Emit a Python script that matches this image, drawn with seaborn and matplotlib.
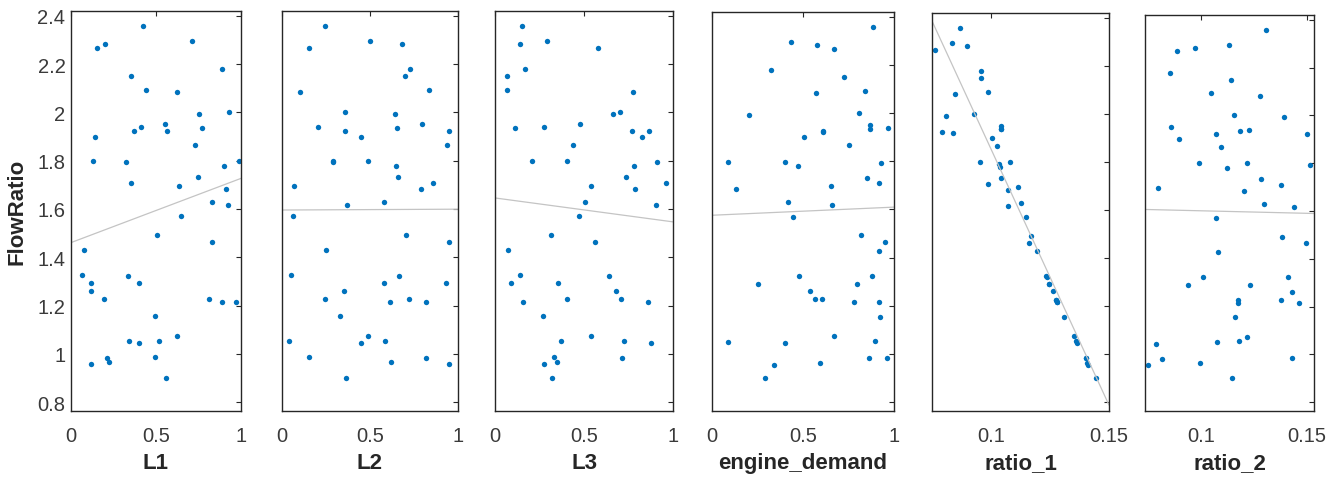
import numpy as np
import pandas as pd
import matplotlib
matplotlib.use('agg')
import matplotlib.pyplot as plt
import seaborn as sns

# response, sorted from high to low
flow_ratio = [2.356, 2.295, 2.284, 2.268, 2.178, 2.149, 2.092, 2.083, 2.001, 1.993,
              1.950, 1.939, 1.936, 1.924, 1.922, 1.900, 1.866, 1.799, 1.799, 1.793,
              1.779, 1.732, 1.708, 1.696, 1.683, 1.630, 1.617, 1.570, 1.492, 1.464,
              1.428, 1.325, 1.322, 1.292, 1.292, 1.261, 1.227, 1.227, 1.215, 1.215,
              1.155, 1.074, 1.055, 1.051, 1.045, 0.985, 0.982, 0.964, 0.956, 0.899]

L1 = [0.424, 0.712, 0.201, 0.155, 0.889, 0.351, 0.439, 0.624, 0.929, 0.755,
      0.555, 0.410, 0.771, 0.371, 0.563, 0.143, 0.729, 0.128, 0.990, 0.325,
      0.902, 0.749, 0.355, 0.633, 0.912, 0.831, 0.922, 0.647, 0.508, 0.829,
      0.075, 0.063, 0.334, 0.119, 0.400, 0.119, 0.196, 0.810, 0.888, 0.971,
      0.496, 0.622, 0.341, 0.518, 0.400, 0.492, 0.210, 0.225, 0.118, 0.557]

L2 = [0.243, 0.502, 0.683, 0.153, 0.728, 0.700, 0.838, 0.100, 0.358, 0.642,
      0.796, 0.202, 0.653, 0.951, 0.360, 0.449, 0.940, 0.291, 0.489, 0.291,
      0.649, 0.657, 0.857, 0.066, 0.791, 0.581, 0.370, 0.060, 0.702, 0.947,
      0.251, 0.051, 0.666, 0.581, 0.932, 0.355, 0.242, 0.719, 0.613, 0.819,
      0.330, 0.487, 0.040, 0.583, 0.451, 0.153, 0.819, 0.617, 0.947, 0.364]

L3 = [0.150, 0.293, 0.138, 0.579, 0.168, 0.065, 0.065, 0.776, 0.705, 0.662,
      0.477, 0.277, 0.112, 0.770, 0.867, 0.824, 0.436, 0.407, 0.209, 0.910,
      0.781, 0.738, 0.963, 0.542, 0.787, 0.505, 0.903, 0.471, 0.312, 0.559,
      0.073, 0.138, 0.639, 0.090, 0.355, 0.677, 0.406, 0.710, 0.155, 0.860,
      0.269, 0.542, 0.368, 0.725, 0.877, 0.333, 0.712, 0.348, 0.277, 0.318]

engine_demand = [0.885, 0.434, 0.575, 0.673, 0.325, 0.728, 0.838, 0.573, 0.805, 0.201,
                 0.870, 0.965, 0.870, 0.609, 0.609, 0.507, 0.755, 0.086, 0.403, 0.927,
                 0.471, 0.854, 0.916, 0.653, 0.131, 0.420, 0.662, 0.447, 0.821, 0.953,
                 0.918, 0.881, 0.480, 0.254, 0.794, 0.540, 0.566, 0.606, 0.779, 0.916,
                 0.923, 0.673, 0.898, 0.089, 0.403, 0.861, 0.960, 0.591, 0.341, 0.292]

ratio_1 = [0.0870, 0.0835, 0.0900, 0.0764, 0.0959, 0.0959, 0.0989, 0.0849, 0.0928, 0.0811,
           0.1044, 0.1044, 0.1044, 0.0794, 0.0839, 0.1003, 0.1024, 0.1082, 0.0952, 0.1035,
           0.1037, 0.1042, 0.0989, 0.1116, 0.1071, 0.1127, 0.1072, 0.1150, 0.1171, 0.1161,
           0.1196, 0.1234, 0.1239, 0.1244, 0.1247, 0.1263, 0.1274, 0.1275, 0.1278, 0.1280,
           0.1309, 0.1350, 0.1362, 0.1364, 0.1366, 0.1401, 0.1404, 0.1407, 0.1411, 0.1446]

ratio_2 = [0.1310, 0.1133, 0.0974, 0.0886, 0.0853, 0.1143, 0.1048, 0.1281, 0.1154, 0.1392,
           0.0859, 0.1225, 0.1185, 0.1072, 0.1500, 0.0896, 0.1094, 0.0992, 0.1217, 0.1516,
           0.1122, 0.1283, 0.1381, 0.0795, 0.1203, 0.1300, 0.1441, 0.1072, 0.1382, 0.1496,
           0.1080, 0.1011, 0.1411, 0.0940, 0.1233, 0.1433, 0.1173, 0.1379, 0.1174, 0.1466,
           0.1160, 0.1219, 0.1178, 0.1074, 0.0789, 0.1433, 0.0814, 0.0996, 0.0749, 0.1145]

predictors = ['L1', 'L2', 'L3', 'engine_demand', 'ratio_1', 'ratio_2']
x_limits = [(0, 1), (0, 1), (0, 1), (0, 1), (0.075, 0.15), (0.0735, 0.1535)]
x_ticks = [[0, 0.5, 1]] * 4 + [[0.1, 0.15]] * 2
x_tick_labels = [['0', '0.5', '1']] * 4 + [['0.1', '0.15']] * 2
y_ticks = [0.8, 1.0, 1.2, 1.4, 1.6, 1.8, 2.0, 2.2, 2.4]
y_tick_labels = ['0.8', '1', '1.2', '1.4', '1.6', '1.8', '2', '2.2', '2.4']

df = pd.DataFrame({'FlowRatio': flow_ratio, 'L1': L1, 'L2': L2, 'L3': L3,
                   'engine_demand': engine_demand, 'ratio_1': ratio_1, 'ratio_2': ratio_2})

sns.set_style('white')
plt.rcParams['font.family'] = ['Liberation Sans', 'DejaVu Sans']

W, H = 1344, 481
fig = plt.figure(figsize=(W / 100, H / 100), dpi=100)

# axes boxes in pixels (left, right, top); all end at y=412
boxes = [(71, 241, 12), (282, 458, 12), (495, 673, 12),
         (712, 894, 13), (932, 1109, 14), (1145, 1314, 16)]
bottom = 412

for i, col in enumerate(predictors):
    l, r, t = boxes[i]
    ax = fig.add_axes([l / W, (H - bottom) / H, (r - l) / W, (bottom - t) / H])
    ax.set_xlim(x_limits[i])
    ax.set_ylim(0.763, 2.42)
    sns.regplot(data=df, x=col, y='FlowRatio', ax=ax, ci=None, truncate=False,
                scatter_kws={'s': 15, 'color': '#0072BD', 'linewidths': 0, 'alpha': 1},
                line_kws={'color': '#c4c4c4', 'lw': 0.9})
    ax.set_xlim(x_limits[i])
    ax.set_ylim(0.763, 2.42)

    ax.set_xticks(x_ticks[i])
    ax.set_xticklabels(x_tick_labels[i])
    ax.set_yticks(y_ticks)
    ax.tick_params(direction='in', length=3.5, width=0.8, top=True, right=True,
                   color='#262626', labelcolor='#3a3a3a', labelsize=14.5)
    ax.tick_params(axis='x', pad=11)
    ax.tick_params(axis='y', pad=4)
    for s in ax.spines.values():
        s.set_linewidth(1.0)
        s.set_color('#262626')

    ax.set_xlabel(col, fontsize=16, fontweight='bold', color='#262626', labelpad=5)
    if i == 0:
        ax.set_yticklabels(y_tick_labels)
        ax.set_ylabel('FlowRatio', fontsize=16, fontweight='bold', color='#262626', labelpad=7)
    else:
        ax.set_yticklabels([])
        ax.set_ylabel('')

fig.savefig('out.png', dpi=100)
plt.close()
